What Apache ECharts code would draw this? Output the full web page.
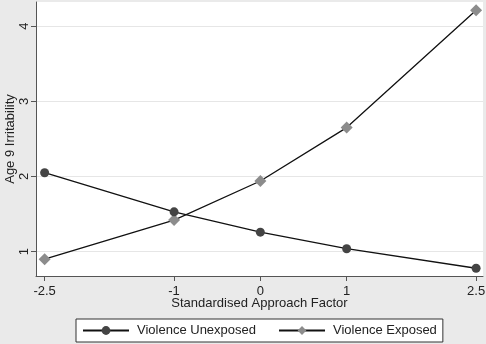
<!DOCTYPE html>
<html>
<head>
<meta charset="utf-8">
<script src="https://cdn.jsdelivr.net/npm/echarts@6/dist/echarts.min.js"></script>
<style>
  html, body { margin: 0; padding: 0; background: #eaeaea; }
  #chart { width: 486px; height: 344px; }
</style>
</head>
<body>
<div id="chart"></div>
<script>
// data
const approach = [-2.5, -1, 0, 1, 2.5];
const unexposed = [2.05, 1.53, 1.26, 1.04, 0.78];
const exposed = [0.90, 1.42, 1.94, 2.65, 4.21];
const xTicks = [-2.5, -1, 0, 1, 2.5];
const yTicks = [1, 2, 3, 4];

const font = 'Liberation Sans, Arial, sans-serif';
const pairs = (ys) => approach.map((x, i) => [x, ys[i]]);

const chart = echarts.init(document.getElementById('chart'));
chart.setOption({
    backgroundColor: '#eaeaea',
    animation: false,
    textStyle: { fontFamily: font },
    grid: {
        left: 36, right: 3, top: 2, bottom: 68,
        containLabel: false, outerBoundsMode: 'none',
        show: true, backgroundColor: '#ffffff', borderWidth: 0
    },
    legend: {
        left: 76, top: 319,
        padding: [3, 6],
        itemWidth: 46, itemHeight: 11, itemGap: 22,
        backgroundColor: '#ffffff',
        borderColor: '#333', borderWidth: 1, borderRadius: 0,
        textStyle: { fontSize: 13, color: '#222', fontFamily: font, lineHeight: 17, padding: [0, 0, 0, 3] },
        data: ['Violence Unexposed', 'Violence Exposed']
    },
    xAxis: {
        type: 'value',
        min: -2.6, max: 2.58,
        name: 'Standardised Approach Factor',
        nameLocation: 'middle', nameGap: 21, nameMoveOverlap: false,
        nameTextStyle: { fontSize: 13, color: '#222', fontFamily: font },
        axisLine: { onZero: false, lineStyle: { color: '#555', width: 1 } },
        axisTick: { show: true, length: 5, customValues: xTicks, lineStyle: { color: '#555' } },
        axisLabel: { customValues: xTicks, fontSize: 13, color: '#222', margin: 9, fontFamily: font },
        splitLine: { show: false }
    },
    yAxis: {
        type: 'value',
        min: 0.677, max: 4.32,
        name: 'Age 9 Irritability',
        nameLocation: 'middle', nameGap: 19, nameRotate: 90, nameMoveOverlap: false,
        nameTextStyle: { fontSize: 13, color: '#222', fontFamily: font },
        axisLine: { show: true, onZero: false, lineStyle: { color: '#555', width: 1 } },
        axisTick: { show: true, length: 5, customValues: yTicks, lineStyle: { color: '#555' } },
        axisLabel: { customValues: yTicks, rotate: 90, fontSize: 13, color: '#222', margin: 5, fontFamily: font },
        splitLine: { show: true, lineStyle: { color: '#e6e6e6', width: 1 } }
    },
    series: [
        {
            name: 'Violence Unexposed',
            type: 'line',
            data: pairs(unexposed),
            symbol: 'circle', symbolSize: 9,
            itemStyle: { color: '#444444' },
            lineStyle: { color: '#111', width: 1.3 },
            z: 3
        },
        {
            name: 'Violence Exposed',
            type: 'line',
            data: pairs(exposed),
            symbol: 'diamond', symbolSize: 12,
            itemStyle: { color: '#8c8c8c' },
            lineStyle: { color: '#111', width: 1.3 },
            z: 2
        }
    ]
});
</script>
</body>
</html>
